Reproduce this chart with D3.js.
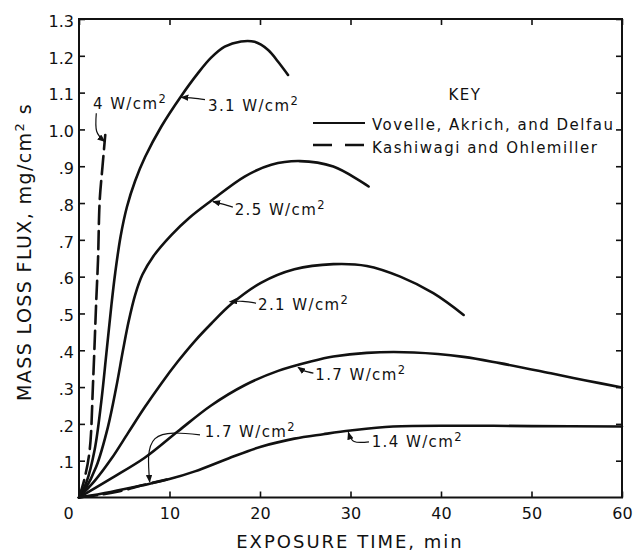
<!DOCTYPE html>
<html>
<head>
<meta charset="utf-8">
<script src="https://cdn.jsdelivr.net/npm/d3@7"></script>
<style>
  body { margin: 0; background: #fff; }
  text { font-family: "DejaVu Sans", sans-serif; fill: #111; }
</style>
</head>
<body>
<div id="chart-area"></div>
<script>
// Mass loss flux vs exposure time

// data (time in min, flux in mg/cm2 s)
const t31 = [0, 0.8, 1.73, 2.46, 3.02, 3.57, 4.0, 4.6, 5.3, 6.2, 7.3, 9.1, 11.3, 13.15, 14.6, 16.1, 17.9, 19.4, 20.9, 22.0, 23.1]
const f31 = [0, 0.04, 0.13, 0.26, 0.39, 0.52, 0.61, 0.71, 0.79, 0.86, 0.925, 1.008, 1.091, 1.153, 1.195, 1.225, 1.239, 1.238, 1.216, 1.184, 1.148]

const t25 = [0, 0.63, 1.91, 3.2, 4.12, 4.86, 5.5, 6.2, 7.0, 8.2, 10.2, 12.2, 14.6, 18.3, 21.25, 24.4, 28.1, 32.0]
const f25 = [0, 0.02, 0.084, 0.192, 0.30, 0.40, 0.48, 0.55, 0.605, 0.655, 0.713, 0.76, 0.806, 0.872, 0.904, 0.914, 0.899, 0.845]

const t21 = [0, 1.73, 3.57, 5.41, 7.26, 9.1, 10.94, 12.8, 14.6, 16.8, 20.1, 23.8, 28.1, 31.8, 35.5, 39.15, 42.5]
const f21 = [0, 0.045, 0.105, 0.175, 0.245, 0.31, 0.37, 0.425, 0.472, 0.525, 0.583, 0.62, 0.634, 0.629, 0.600, 0.555, 0.496]

const t17 = [0, 3.57, 7.26, 10.94, 14.6, 18.3, 22, 25.7, 28.1, 31.8, 37.0, 42.5, 46.5, 52.4, 56, 60]
const f17 = [0, 0.052, 0.108, 0.18, 0.25, 0.305, 0.344, 0.37, 0.383, 0.393, 0.394, 0.382, 0.365, 0.336, 0.318, 0.299]

const t14 = [0, 3.5, 7, 10, 12.8, 16.5, 20.1, 23.8, 27, 30, 34.7, 42.8, 50, 60]
const f14 = [0, 0.015, 0.033, 0.05, 0.071, 0.106, 0.138, 0.16, 0.172, 0.182, 0.193, 0.195, 0.194, 0.193]

// Kashiwagi and Ohlemiller (dashed)
const tK4 = [0, 0.6, 1.18, 1.55, 1.91, 2.1, 2.29, 2.6, 2.9]
const fK4 = [0, 0.05, 0.129, 0.311, 0.537, 0.645, 0.808, 0.9, 0.985]

const tK17 = [0, 2, 4.5, 7, 9.7]
const fK17 = [0, 0.006, 0.017, 0.033, 0.049]

// ticks
const xTicks = [0, 10, 20, 30, 40, 50, 60]
const yTicks = [0.1, 0.2, 0.3, 0.4, 0.5, 0.6, 0.7, 0.8, 0.9, 1.0, 1.1, 1.2, 1.3]
const yTickLabels = [".1", ".2", ".3", ".4", ".5", ".6", ".7", ".8", ".9", "1.0", "1.1", "1.2", "1.3"]

const series = [
  { t: t31, f: f31, dashed: false },
  { t: t25, f: f25, dashed: false },
  { t: t21, f: f21, dashed: false },
  { t: t17, f: f17, dashed: false },
  { t: t14, f: f14, dashed: false },
  { t: tK4, f: fK4, dashed: true },
  { t: tK17, f: fK17, dashed: true }
]

// curve labels, placed in data units: text anchor + leader (start, control, tip)
const labels = [
  { num: "4", tx: 1.55, ty: 1.055, path: [[1.91, 1.044], [1.95, 0.995], [2.84, 0.967]] },
  { num: "3.1", tx: 14.25, ty: 1.051, path: [[13.92, 1.081], [12.6, 1.085], [11.3, 1.087]] },
  { num: "2.5", tx: 17.2, ty: 0.7675, path: [[17.0, 0.789], [15.9, 0.797], [14.8, 0.804]] },
  { num: "2.1", tx: 19.78, ty: 0.509, path: [[19.56, 0.528], [18.1, 0.533], [16.65, 0.532]] },
  { num: "1.7", tx: 26.1, ty: 0.319, path: [[25.9, 0.338], [24.9, 0.344], [24.2, 0.354]] },
  { num: "1.7", tx: 13.9, ty: 0.165, path: [[13.37, 0.17], [8.4, 0.16], [7.81, 0.042]] },
  { num: "1.4", tx: 32.34, ty: 0.138, path: [[32.04, 0.151], [30.4, 0.152], [29.76, 0.177]] }
]

const MARGIN = { LEFT: 79, RIGHT: 13, TOP: 19, BOTTOM: 54.5 }
const WIDTH = 635 - MARGIN.LEFT - MARGIN.RIGHT
const HEIGHT = 552 - MARGIN.TOP - MARGIN.BOTTOM

const svg = d3.select("#chart-area").append("svg")
  .attr("width", 635)
  .attr("height", 552)

svg.append("defs").append("marker")
  .attr("id", "arrow")
  .attr("viewBox", "0 0 10 8")
  .attr("refX", 9)
  .attr("refY", 4)
  .attr("markerUnits", "userSpaceOnUse")
  .attr("markerWidth", 8)
  .attr("markerHeight", 6.5)
  .attr("orient", "auto")
  .append("path")
    .attr("d", "M0,0 L10,4 L0,8 Z")
    .attr("fill", "#111")

const g = svg.append("g")
  .attr("transform", `translate(${MARGIN.LEFT}, ${MARGIN.TOP})`)

const x = d3.scaleLinear()
  .domain([0, 60])
  .range([0, WIDTH])

const y = d3.scaleLinear()
  .domain([0, 1.3])
  .range([HEIGHT, 0])

// axes (ticks point inward on all four sides)
const xAxisCall = d3.axisBottom(x)
  .tickValues(xTicks)
  .tickSizeInner(-6)
  .tickSizeOuter(0)
  .tickPadding(10)
const xAxis = g.append("g")
  .attr("class", "x axis")
  .attr("transform", `translate(0, ${HEIGHT})`)
  .call(xAxisCall)
xAxis.select(".domain").remove()
xAxis.selectAll("text")
  .attr("font-size", "16px")
  .attr("font-family", "DejaVu Sans")
  .attr("dx", d => d === 0 ? -11 : 0)

g.append("g")
  .call(d3.axisTop(x).tickValues(xTicks).tickSizeInner(-6).tickSizeOuter(0).tickFormat(""))
  .select(".domain").remove()

const yAxisCall = d3.axisLeft(y)
  .tickValues(yTicks)
  .tickSizeInner(-6)
  .tickSizeOuter(0)
  .tickPadding(5)
  .tickFormat((d, i) => yTickLabels[i])
const yAxis = g.append("g")
  .attr("class", "y axis")
  .call(yAxisCall)
yAxis.select(".domain").remove()
yAxis.selectAll("text")
  .attr("font-size", "16px")
  .attr("font-family", "DejaVu Sans")
  .attr("dy", "0.45em")

g.append("g")
  .attr("transform", `translate(${WIDTH}, 0)`)
  .call(d3.axisRight(y).tickValues(yTicks).tickSizeInner(-6).tickSizeOuter(0).tickFormat(""))
  .select(".domain").remove()

g.selectAll(".tick line")
  .attr("stroke", "#111")
  .attr("stroke-width", 1.6)

// frame
g.append("rect")
  .attr("width", WIDTH)
  .attr("height", HEIGHT)
  .attr("fill", "none")
  .attr("stroke", "#111")
  .attr("stroke-width", 2)

// curves
const line = d3.line()
  .x(d => x(d[0]))
  .y(d => y(d[1]))
  .curve(d3.curveCatmullRom.alpha(0.5))

g.selectAll(".curve")
  .data(series)
  .enter().append("path")
    .attr("class", "curve")
    .attr("d", s => line(s.t.map((t, i) => [t, s.f[i]])))
    .attr("fill", "none")
    .attr("stroke", "#111")
    .attr("stroke-width", 2.6)
    .attr("stroke-linecap", "round")
    .attr("stroke-dasharray", s => s.dashed ? "18,7" : null)

// curve labels and leaders
const leader = d3.line()
  .x(d => x(d[0]))
  .y(d => y(d[1]))
  .curve(d3.curveNatural)

g.selectAll(".leader")
  .data(labels)
  .enter().append("path")
    .attr("class", "leader")
    .attr("d", d => leader(d.path))
    .attr("fill", "none")
    .attr("stroke", "#111")
    .attr("stroke-width", 1.2)
    .attr("marker-end", "url(#arrow)")

const lbl = g.selectAll(".curve-label")
  .data(labels)
  .enter().append("text")
    .attr("class", "curve-label")
    .attr("x", d => x(d.tx))
    .attr("y", d => y(d.ty))
    .attr("font-size", "15px")
    .attr("letter-spacing", "1.4px")
lbl.append("tspan").text(d => d.num + " W/cm")
lbl.append("tspan").attr("dy", -6).attr("font-size", "11.5px").text("2")

// Key
const key = g.append("g")
  .attr("transform", "translate(234, 0)")
key.append("text")
  .attr("x", 152)
  .attr("y", 81)
  .attr("text-anchor", "middle")
  .attr("font-size", "15px")
  .attr("letter-spacing", "1.5px")
  .text("KEY")
key.append("line")
  .attr("x1", 0).attr("x2", 52)
  .attr("y1", 104).attr("y2", 104)
  .attr("stroke", "#111").attr("stroke-width", 2.2)
key.append("line")
  .attr("x1", 0).attr("x2", 51)
  .attr("y1", 126).attr("y2", 126)
  .attr("stroke", "#111").attr("stroke-width", 2.6)
  .attr("stroke-dasharray", "19,13")
key.append("text")
  .attr("x", 59)
  .attr("y", 111)
  .attr("font-size", "15px")
  .attr("letter-spacing", "1.5px")
  .text("Vovelle, Akrich, and Delfau")
key.append("text")
  .attr("x", 59)
  .attr("y", 134)
  .attr("font-size", "15px")
  .attr("letter-spacing", "1.5px")
  .text("Kashiwagi and Ohlemiller")

// X label
svg.append("text")
  .attr("x", 350)
  .attr("y", 548)
  .attr("text-anchor", "middle")
  .attr("font-size", "18px")
  .attr("letter-spacing", "2px")
  .text("EXPOSURE TIME, min")

// Y label
const yLabel = svg.append("text")
  .attr("transform", "translate(31, 252) rotate(-90)")
  .attr("text-anchor", "middle")
  .attr("font-size", "19px")
  .attr("letter-spacing", "1.4px")
yLabel.append("tspan").text("MASS LOSS FLUX, mg/cm")
yLabel.append("tspan").attr("dy", -7).attr("font-size", "13px").text("2")
yLabel.append("tspan").attr("dy", 7).text(" s")
</script>
</body>
</html>
